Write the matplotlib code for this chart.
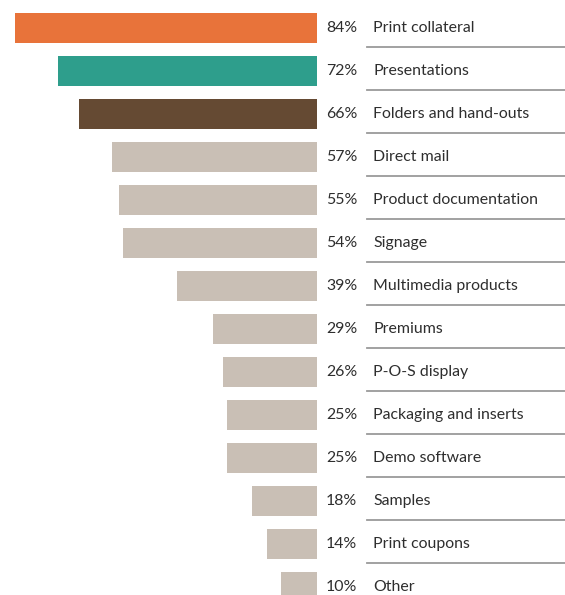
import matplotlib
matplotlib.use("Agg")
import matplotlib.pyplot as plt

categories = ["Print collateral", "Presentations", "Folders and hand-outs",
              "Direct mail", "Product documentation", "Signage",
              "Multimedia products", "Premiums", "P-O-S display",
              "Packaging and inserts", "Demo software", "Samples",
              "Print coupons", "Other"]
values = [84, 72, 66, 57, 55, 54, 39, 29, 26, 25, 25, 18, 14, 10]
colors = ["#E8733A", "#2E9E8C", "#654A33"] + ["#C9BFB5"] * 11

plt.rcParams['font.family'] = ['Lato', 'DejaVu Sans']

fig = plt.figure(figsize=(5.65, 5.95), dpi=100)
ax = fig.add_axes([0, 0, 1, 1])

rows = list(range(len(categories)))
ax.barh(rows, [-v for v in values], height=0.70, color=colors)

for i, (cat, v) in enumerate(zip(categories, values)):
    ax.text(2.5, i, f"{v}%", va="center", ha="left", fontsize=11.4, color="#2e2e2e")
    ax.text(15.6, i, cat, va="center", ha="left", fontsize=11.4, color="#2e2e2e")
    ax.plot([13.9, 70], [i + 0.44, i + 0.44], color="#9a9a9a", lw=1.3)

ax.set_xlim(-317 / 3.6, (565 - 317) / 3.6)
# row pitch ~43 px, first row centred ~28 px from the top
ax.set_ylim((595 - 28) / 43.0, -28 / 43.0)
ax.axis("off")

fig.savefig("out.png", dpi=100)
